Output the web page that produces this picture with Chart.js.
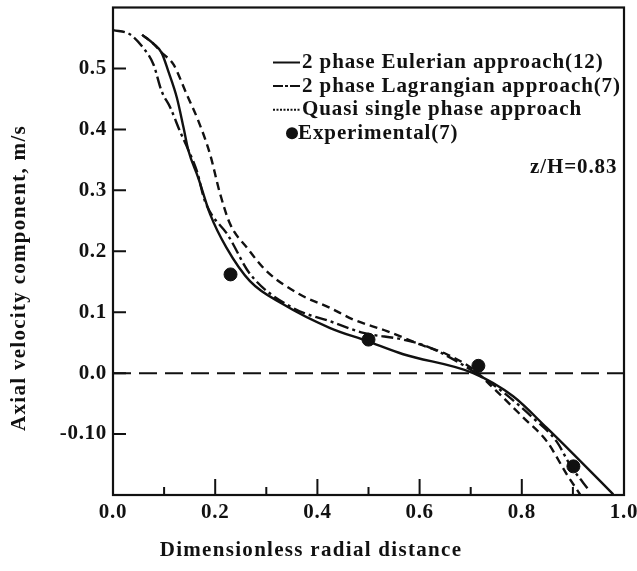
<!DOCTYPE html>
<html>
<head>
<meta charset="utf-8">
<script src="https://cdn.jsdelivr.net/npm/chart.js@4.4.0/dist/chart.umd.min.js"></script>
<style>
    html, body { margin: 0; padding: 0; background: #fff; }
</style>
</head>
<body>
<canvas id="velocityChart" width="637" height="571"></canvas>
<script>
// ===================================
// Axial velocity profile, z/H = 0.83
// ===================================

// values
const eulerianX = [0.057, 0.08, 0.095, 0.108, 0.125, 0.138, 0.147, 0.167, 0.19, 0.222, 0.268, 0.333, 0.425, 0.496, 0.568, 0.705, 0.783, 0.849, 0.901, 0.979];
const eulerianY = [0.555, 0.54, 0.526, 0.496, 0.452, 0.403, 0.367, 0.32, 0.261, 0.206, 0.151, 0.113, 0.074, 0.053, 0.031, 0.0, -0.038, -0.09, -0.133, -0.199];

const lagrangianX = [0.0, 0.033, 0.059, 0.079, 0.095, 0.112, 0.131, 0.147, 0.164, 0.18, 0.226, 0.268, 0.352, 0.425, 0.49, 0.568, 0.62, 0.705, 0.757, 0.82, 0.868, 0.894, 0.933];
const lagrangianY = [0.563, 0.556, 0.534, 0.507, 0.463, 0.436, 0.397, 0.367, 0.332, 0.282, 0.225, 0.163, 0.107, 0.085, 0.066, 0.055, 0.042, 0.003, -0.027, -0.072, -0.112, -0.15, -0.194];

const quasiX = [0.057, 0.08, 0.095, 0.118, 0.144, 0.167, 0.19, 0.209, 0.229, 0.262, 0.301, 0.366, 0.425, 0.47, 0.536, 0.601, 0.653, 0.705, 0.751, 0.803, 0.849, 0.888, 0.914];
const quasiY = [0.555, 0.54, 0.526, 0.507, 0.458, 0.414, 0.359, 0.296, 0.245, 0.206, 0.167, 0.129, 0.107, 0.088, 0.069, 0.047, 0.031, 0.006, -0.03, -0.073, -0.112, -0.166, -0.199];

const experimentX = [0.23, 0.5, 0.715, 0.901];
const experimentY = [0.162, 0.055, 0.012, -0.153];

const zeroLineX = [0.0, 1.0];
const zeroLineY = [0.0, 0.0];

const seriesLabels = ['2 phase Eulerian approach(12)', '2 phase Lagrangian approach(7)', 'Quasi single phase approach', 'Experimental(7)'];

const xTickValues = [0.0, 0.2, 0.4, 0.6, 0.8, 1.0];
const xTickLabels = ['0.0', '0.2', '0.4', '0.6', '0.8', '1.0'];
const xMinorTicks = [0.1, 0.3, 0.5, 0.7, 0.9];
const yTickValues = [-0.1, 0.0, 0.1, 0.2, 0.3, 0.4, 0.5];
const yTickLabels = ['-0.10', '0.0', '0.1', '0.2', '0.3', '0.4', '0.5'];

const xTitle = 'Dimensionless radial distance';
const yTitle = 'Axial velocity component, m/s';
const caseLabel = 'z/H=0.83';

const INK = '#111';
const FONT = '"Liberation Serif", "Times New Roman", serif';

function toPoints(xs, ys) {
    return xs.map((x, i) => ({ x: x, y: ys[i] }));
}

// slightly wider letter spacing, the scanned type is quite broad
const spacingPlugin = {
    id: 'spacing',
    beforeDraw(chart) {
        chart.ctx.letterSpacing = '0.7px';
    }
};

// frame, inward tick marks and axis titles
const framePlugin = {
    id: 'frame',
    afterDraw(chart) {
        const ctx = chart.ctx;
        const area = chart.chartArea;
        const xs = chart.scales.x;
        const ys = chart.scales.y;
        ctx.save();
        ctx.strokeStyle = INK;
        ctx.lineWidth = 2.2;
        ctx.strokeRect(area.left, area.top, area.right - area.left, area.bottom - area.top);

        ctx.lineWidth = 2;
        ctx.beginPath();
        yTickValues.forEach(v => {
            const py = ys.getPixelForValue(v);
            ctx.moveTo(area.left, py);
            ctx.lineTo(area.left + 13, py);
        });
        xTickValues.slice(1, -1).forEach(v => {
            const px = xs.getPixelForValue(v);
            ctx.moveTo(px, area.bottom);
            ctx.lineTo(px, area.bottom - 16);
        });
        xMinorTicks.forEach(v => {
            const px = xs.getPixelForValue(v);
            ctx.moveTo(px, area.bottom);
            ctx.lineTo(px, area.bottom - 8);
        });
        ctx.stroke();

        // axis titles
        ctx.fillStyle = INK;
        ctx.font = 'bold 21px ' + FONT;
        ctx.letterSpacing = '1.3px';
        ctx.textAlign = 'center';
        ctx.textBaseline = 'middle';
        ctx.fillText(xTitle, 311, 551);
        ctx.translate(20, 278);
        ctx.rotate(-Math.PI / 2);
        ctx.fillText(yTitle, 0, 0);
        ctx.restore();
    }
};

// legend drawn inside the plot, top right
const insideLegendPlugin = {
    id: 'insideLegend',
    afterDatasetsDraw(chart) {
        const ctx = chart.ctx;
        const area = chart.chartArea;
        const sampleX = area.left + 160;
        const textX = area.left + 189;
        ctx.save();
        ctx.font = 'bold 21px ' + FONT;
        ctx.letterSpacing = '0.9px';
        ctx.textBaseline = 'middle';
        ctx.fillStyle = INK;
        ctx.strokeStyle = INK;
        chart.data.datasets.forEach((ds, i) => {
            if (!ds.label) return;
            const y = area.top + 55 + i * 23.6;
            if (ds.showLine === false) {
                ctx.beginPath();
                ctx.arc(sampleX + 19, y, 6, 0, Math.PI * 2);
                ctx.fill();
                ctx.fillText(ds.label, textX - 4, y);
            } else {
                ctx.lineWidth = 2;
                ctx.setLineDash(ds.legendDash || []);
                ctx.beginPath();
                ctx.moveTo(sampleX, y);
                ctx.lineTo(textX - 2, y);
                ctx.stroke();
                ctx.setLineDash([]);
                ctx.fillText(ds.label, textX, y);
            }
        });
        ctx.fillText(caseLabel, area.right - 94, area.top + 160);
        ctx.restore();
    }
};

const lineBase = {
    showLine: true,
    borderColor: INK,
    borderWidth: 2.4,
    pointRadius: 0,
    fill: false,
    cubicInterpolationMode: 'monotone'
};

new Chart(document.getElementById('velocityChart'), {
    type: 'scatter',
    data: {
        datasets: [
            Object.assign({}, lineBase, {
                label: seriesLabels[0],
                data: toPoints(eulerianX, eulerianY),
                borderDash: [],
                legendDash: []
            }),
            Object.assign({}, lineBase, {
                label: seriesLabels[1],
                data: toPoints(lagrangianX, lagrangianY),
                borderDash: [12, 4, 3, 4],
                legendDash: [10, 2, 3, 2]
            }),
            Object.assign({}, lineBase, {
                label: seriesLabels[2],
                data: toPoints(quasiX, quasiY),
                borderDash: [8, 5],
                legendDash: [2, 1.5]
            }),
            {
                label: seriesLabels[3],
                data: toPoints(experimentX, experimentY),
                showLine: false,
                pointRadius: 6.5,
                pointBackgroundColor: INK,
                pointBorderColor: INK
            },
            {
                label: '',
                data: toPoints(zeroLineX, zeroLineY),
                showLine: true,
                borderColor: INK,
                borderWidth: 2,
                borderDash: [18, 8],
                pointRadius: 0
            }
        ]
    },
    options: {
        responsive: false,
        animation: false,
        layout: {
            padding: { top: 7, right: 13 }
        },
        plugins: {
            legend: { display: false },
            tooltip: { enabled: false }
        },
        scales: {
            x: {
                type: 'linear',
                min: 0,
                max: 1,
                grid: { display: false, drawTicks: false },
                border: { display: false },
                afterBuildTicks: scale => {
                    scale.ticks = xTickValues.map(v => ({ value: v }));
                },
                afterFit: scale => {
                    scale.height = 76;
                    scale.paddingLeft = 0;
                    scale.paddingRight = 0;
                },
                ticks: {
                    padding: 5,
                    color: INK,
                    font: { family: FONT, size: 21, weight: 'bold' },
                    maxRotation: 0,
                    callback: (v, i) => xTickLabels[i]
                }
            },
            y: {
                type: 'linear',
                min: -0.2,
                max: 0.6,
                grid: { display: false, drawTicks: false },
                border: { display: false },
                afterBuildTicks: scale => {
                    scale.ticks = yTickValues.map(v => ({ value: v }));
                },
                afterFit: scale => {
                    scale.width = 113;
                    scale.paddingTop = 0;
                    scale.paddingBottom = 0;
                },
                ticks: {
                    padding: 6,
                    color: INK,
                    font: { family: FONT, size: 21, weight: 'bold' },
                    callback: (v, i) => yTickLabels[i]
                }
            }
        }
    },
    plugins: [spacingPlugin, framePlugin, insideLegendPlugin]
});
</script>
</body>
</html>
